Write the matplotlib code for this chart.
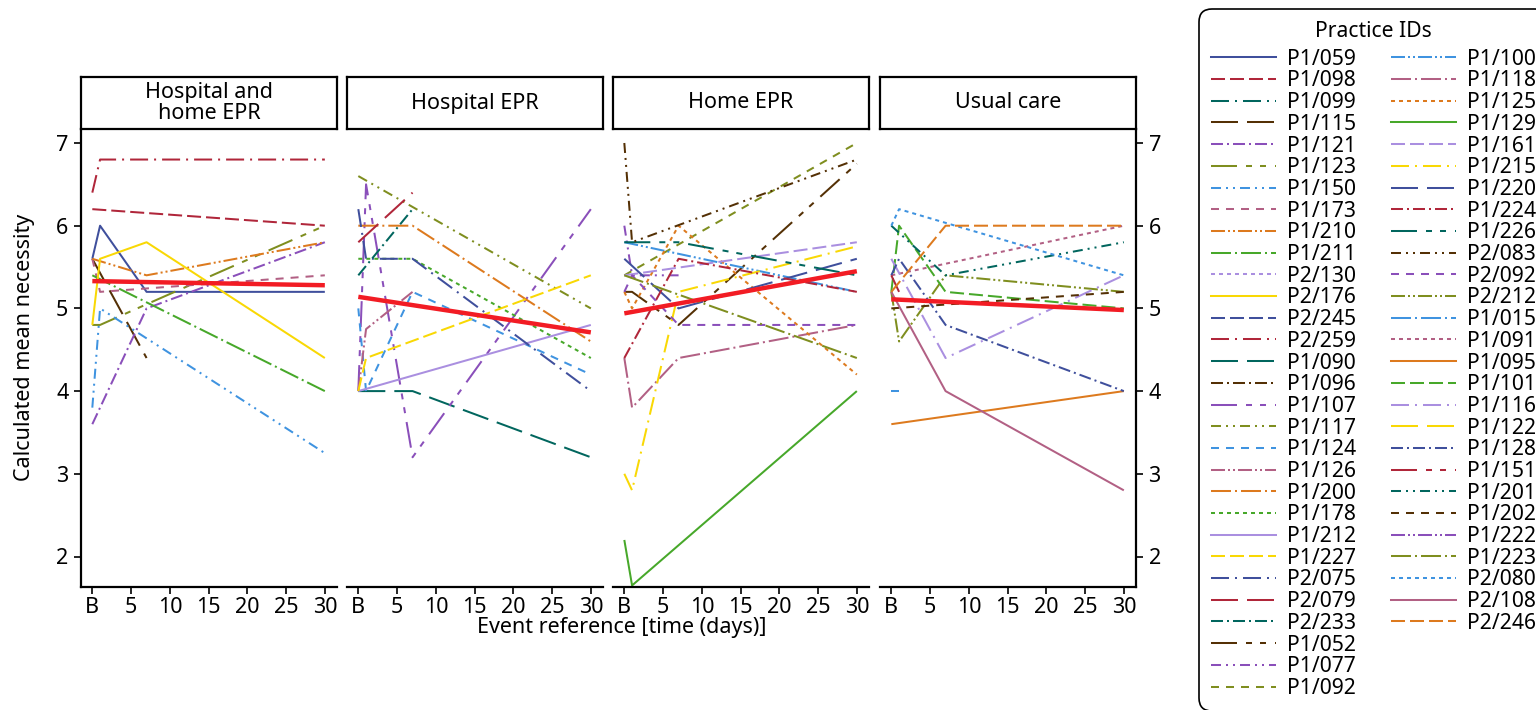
import matplotlib
matplotlib.use("Agg")
import matplotlib.pyplot as plt
from matplotlib.lines import Line2D

plt.rcParams['font.family'] = ['Noto Sans', 'DejaVu Sans']
plt.rcParams['lines.scale_dashes'] = False
FS = 15.5
LEG_FS = 15.2
plt.rcParams['font.size'] = FS

# ---------------- data ----------------
DAYS = [0, 1, 7, 30]
X_TICKS = [0, 5, 10, 15, 20, 25, 30]
X_TICK_LABELS = ['B', '5', '10', '15', '20', '25', '30']
Y_TICKS = [2, 3, 4, 5, 6, 7]
PANEL_TITLES = ['Hospital and\nhome EPR', 'Hospital EPR', 'Home EPR', 'Usual care']
N = None

LEGEND_IDS = ['P1/059', 'P1/098', 'P1/099', 'P1/115', 'P1/121', 'P1/123', 'P1/150',
              'P1/173', 'P1/210', 'P1/211', 'P2/130', 'P2/176', 'P2/245', 'P2/259',
              'P1/090', 'P1/096', 'P1/107', 'P1/117', 'P1/124', 'P1/126', 'P1/200',
              'P1/178', 'P1/212', 'P1/227', 'P2/075', 'P2/079', 'P2/233', 'P1/052',
              'P1/077', 'P1/092', 'P1/100', 'P1/118', 'P1/125', 'P1/129', 'P1/161',
              'P1/215', 'P1/220', 'P1/224', 'P1/226', 'P2/083', 'P2/092', 'P2/212',
              'P1/015', 'P1/091', 'P1/095', 'P1/101', 'P1/116', 'P1/122', 'P1/128',
              'P1/151', 'P1/201', 'P1/202', 'P1/222', 'P1/223', 'P2/080', 'P2/108',
              'P2/246']

# values at DAYS (B, 1, 7, 30); None = no observation
PANEL1_IDS = ['P1/059', 'P1/098', 'P1/099', 'P1/115', 'P1/121', 'P1/123', 'P1/150',
              'P1/173', 'P1/210', 'P1/211', 'P2/130', 'P2/176', 'P2/245', 'P2/259']
PANEL1_VALUES = [[5.6, 6.0, 5.2, 5.2], [6.2, N, N, 6.0], [N, N, N, N],
                 [5.6, N, 4.4, N], [3.6, N, 5.0, 5.8], [4.8, 4.8, 5.05, 6.0],
                 [3.8, 5.0, N, 3.25], [5.6, 5.2, N, 5.4], [5.6, N, 5.4, 5.8],
                 [5.4, N, N, 4.0], [N, N, N, N], [4.8, 5.6, 5.8, 4.4],
                 [N, N, N, N], [6.4, 6.8, 6.8, 6.8]]

PANEL2_IDS = ['P1/090', 'P1/096', 'P1/107', 'P1/117', 'P1/124', 'P1/126', 'P1/200',
              'P1/178', 'P1/212', 'P1/227', 'P2/075', 'P2/079', 'P2/233']
PANEL2_VALUES = [[4.0, N, 4.0, 3.2], [N, N, N, N], [4.0, 6.5, 3.2, 6.2],
                 [6.6, N, N, 5.0], [5.0, 4.0, 5.2, 4.2], [4.0, 4.75, 5.2, N],
                 [6.0, N, 6.0, 4.6], [5.6, N, 5.6, 4.4], [4.0, N, N, 4.8],
                 [4.0, 4.4, N, 5.4], [6.2, 5.6, 5.6, 4.0], [5.8, N, 6.4, N],
                 [5.4, N, 6.2, N]]

PANEL3_IDS = ['P1/052', 'P1/077', 'P1/092', 'P1/100', 'P1/118', 'P1/125', 'P1/129',
              'P1/161', 'P1/215', 'P1/220', 'P1/224', 'P1/226', 'P2/083', 'P2/092',
              'P1/223']
PANEL3_VALUES = [[5.2, 5.2, 4.8, 6.75], [6.0, 5.4, 5.4, N], [5.4, N, N, 7.0],
                 [5.8, N, N, 5.2], [4.4, 3.8, 4.4, 4.8], [5.2, 5.0, 6.0, 4.2],
                 [2.2, 1.65, N, 4.0], [5.4, N, N, 5.8], [3.0, 2.8, 5.2, 5.75],
                 [5.6, N, 5.0, 5.6], [4.4, N, 5.6, 5.2], [5.8, 5.8, 5.8, 5.4],
                 [7.0, 5.8, N, 6.8], [5.2, 5.4, 4.8, 4.8], [5.4, N, N, 4.4]]

PANEL4_IDS = ['P2/212', 'P1/015', 'P1/091', 'P1/095', 'P1/101', 'P1/116', 'P1/122',
              'P1/128', 'P1/151', 'P1/201', 'P1/202', 'P1/222', 'P2/080', 'P2/108',
              'P2/246']
PANEL4_VALUES = [[5.2, 4.6, 5.4, 5.2], [4.0, 4.0, N, N], [5.4, N, N, 6.0],
                 [3.6, N, N, 4.0], [5.2, 6.0, 5.2, 5.0], [5.6, N, 4.4, 5.4],
                 [N, N, N, N], [5.4, 5.6, 4.8, 4.0], [5.4, 5.2, N, N],
                 [6.0, N, 5.4, 5.8], [5.0, N, N, 5.2], [N, N, N, N],
                 [6.0, 6.2, N, 5.4], [5.2, N, 4.0, 2.8], [5.2, N, 6.0, 6.0]]

MEAN_DAYS = [0, 30]
MEAN_VALUES = [[5.33, 5.28], [5.14, 4.71], [4.94, 5.45], [5.11, 4.98]]

# ---------------- styles ----------------
COLORS = ['#3F4F9C', '#B0263A', '#01665E', '#543005', '#8A4FBA', '#7F8E1F',
          '#3F93E0', '#B26084', '#DD7A1E', '#47A82A', '#AA8FE0', '#F9D804']
PATTERNS_PX = [None, (14, 5), (18, 6, 2, 6), (27, 9), (12, 4, 2, 4),
               (26, 9, 6, 8, 6, 9), (10, 5, 2, 5, 2, 5), (8, 7),
               (14, 3, 2, 3, 2, 3), (20, 4, 2, 4), (4, 4)]
PX2PT = 0.72
LW = 1.45


def style_for(pid):
    i = LEGEND_IDS.index(pid)
    pat = PATTERNS_PX[i % len(PATTERNS_PX)]
    ls = '-' if pat is None else (0, tuple(v * PX2PT for v in pat))
    return COLORS[i % len(COLORS)], ls


W, H = 1536, 710
fig = plt.figure(figsize=(W / 100, H / 100), dpi=100)


def fx(px):
    return px / W


def fy(py):
    return 1 - py / H


PANEL_LEFT = [81, 347, 613, 880]
PANEL_W = 256
TOP, BOTTOM, HEADER_TOP = 129, 587, 77
UNIT_PX = 82.7
Y_TOP = 7 + 14 / UNIT_PX
YLIM = (Y_TOP - (BOTTOM - TOP) / UNIT_PX, Y_TOP)
XLIM = (-1.46, 31.57)

panels = [(PANEL1_IDS, PANEL1_VALUES), (PANEL2_IDS, PANEL2_VALUES),
          (PANEL3_IDS, PANEL3_VALUES), (PANEL4_IDS, PANEL4_VALUES)]

for k, (ids, vals) in enumerate(panels):
    ax = fig.add_axes([fx(PANEL_LEFT[k]), fy(BOTTOM), PANEL_W / W, (BOTTOM - TOP) / H])
    for pid, series in zip(ids, vals):
        xs = [d for d, v in zip(DAYS, series) if v is not None]
        ys = [v for v in series if v is not None]
        if len(xs) < 1:
            continue
        c, ls = style_for(pid)
        ax.plot(xs, ys, color=c, linestyle=ls, lw=LW, dash_capstyle='butt',
                solid_capstyle='butt', zorder=2)
    ax.plot(MEAN_DAYS, MEAN_VALUES[k], color='#F21C24', lw=3.2,
            solid_capstyle='butt', zorder=5)
    ax.set_xlim(*XLIM)
    ax.set_ylim(*YLIM)
    ax.set_xticks(X_TICKS)
    ax.set_xticklabels(X_TICK_LABELS)
    ax.set_yticks(Y_TICKS)
    for s in ['top', 'left', 'right']:
        ax.spines[s].set_visible(False)
    ax.spines['bottom'].set_linewidth(1.6)
    ax.tick_params(axis='x', length=5, width=1.2, pad=2, labelsize=FS)
    if k == 0:
        ax.spines['left'].set_visible(True)
        ax.spines['left'].set_linewidth(1.6)
        ax.tick_params(axis='y', length=5, width=1.2, pad=4, labelsize=FS)
    elif k == 3:
        ax.spines['right'].set_visible(True)
        ax.spines['right'].set_linewidth(1.6)
        ax.yaxis.tick_right()
        ax.tick_params(axis='y', length=5, width=1.2, pad=4, labelsize=FS)
    else:
        ax.tick_params(axis='y', left=False, labelleft=False)

    hax = fig.add_axes([fx(PANEL_LEFT[k]), fy(TOP), PANEL_W / W, (TOP - HEADER_TOP) / H])
    hax.set_xticks([])
    hax.set_yticks([])
    for s in hax.spines.values():
        s.set_linewidth(1.6)
    hax.text(0.5, 0.5, PANEL_TITLES[k], ha='center', va='center', fontsize=FS,
             linespacing=1.0, transform=hax.transAxes)

fig.text(fx(25), fy(347), 'Calculated mean necessity', rotation=90,
         ha='center', va='center', fontsize=FS)
fig.text(fx(622), fy(628), 'Event reference [time (days)]', ha='center',
         va='center', fontsize=FS)

# legend
handles = []
labels = []
for pid in LEGEND_IDS:
    c, ls = style_for(pid)
    handles.append(Line2D([], [], color=c, linestyle=ls, lw=LW, dash_capstyle='butt'))
    labels.append(pid)
for _ in range(3):
    handles.append(Line2D([], [], alpha=0))
    labels.append(' ')

leg = fig.legend(handles, labels, ncol=2, loc='upper left',
                 bbox_to_anchor=(fx(1199), fy(9)), bbox_transform=fig.transFigure,
                 title='Practice IDs', fontsize=LEG_FS, title_fontsize=LEG_FS,
                 frameon=True, fancybox=True, edgecolor='black', framealpha=1,
                 handlelength=3.08, handletextpad=0.52, columnspacing=1.66,
                 labelspacing=0.033, borderaxespad=0, borderpad=0.56)
leg._legend_box.sep = 5
leg.get_frame().set_linewidth(1.2)
leg.get_frame().set_boxstyle('round,pad=0,rounding_size=0.6')

fig.savefig('out.png', dpi=100)
